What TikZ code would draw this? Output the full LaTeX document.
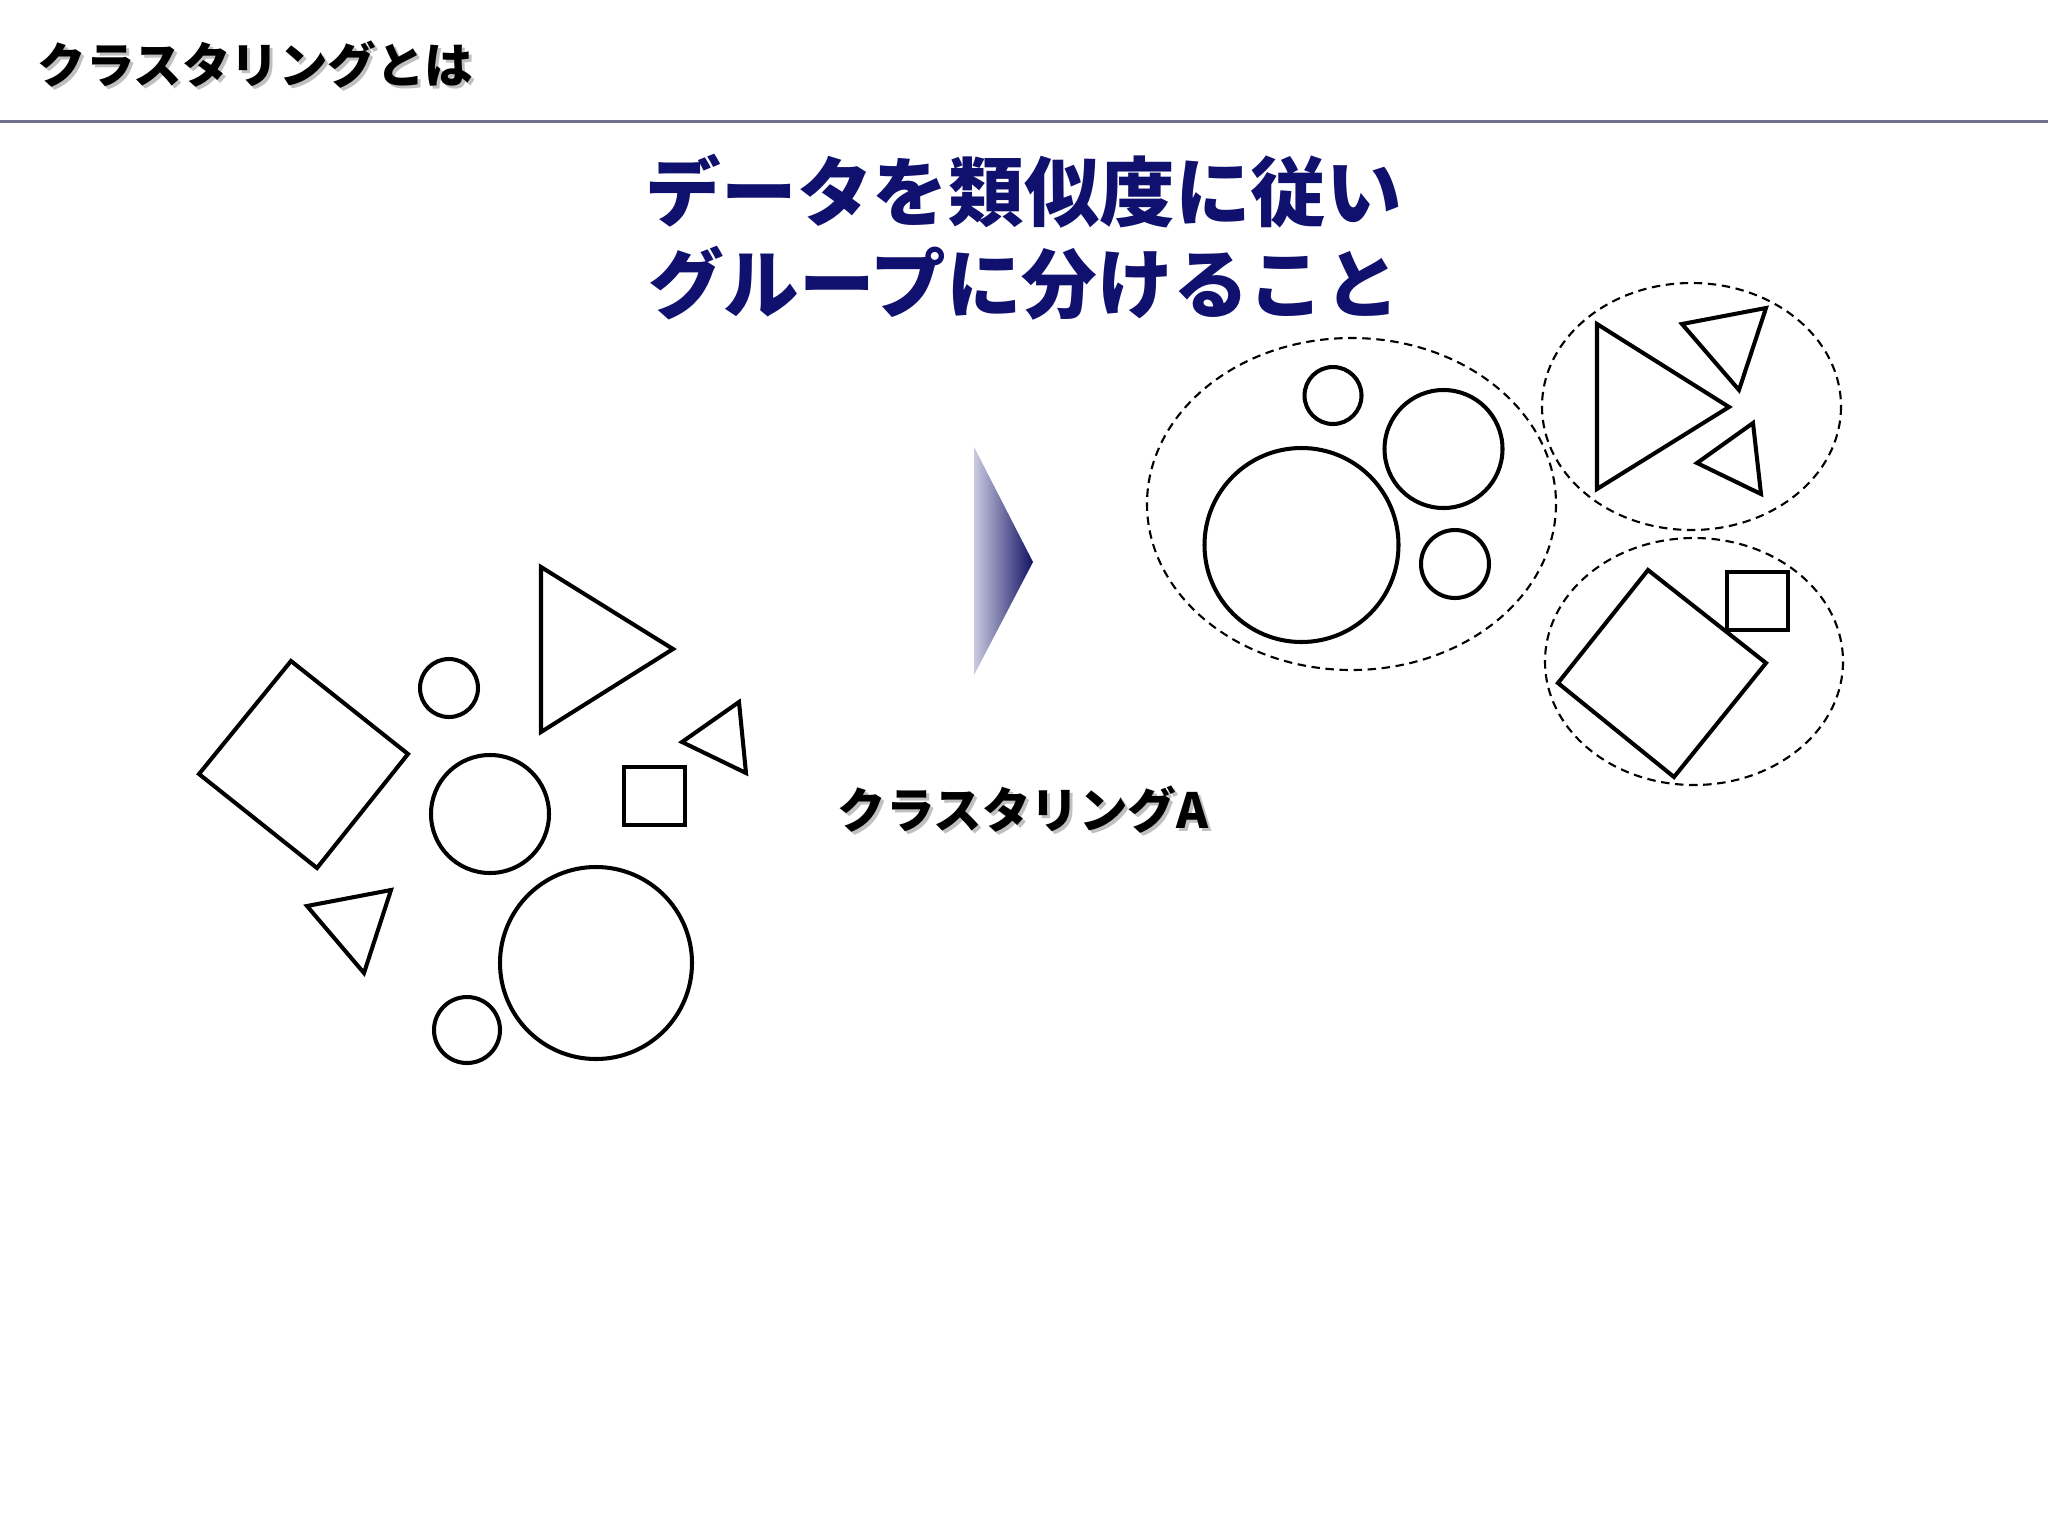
\documentclass[tikz,border=0pt]{standalone}
\usepackage{fontspec}
\newfontfamily\jp{Noto Sans CJK JP}
\definecolor{navytext}{RGB}{16,16,110}
\definecolor{rulegray}{RGB}{112,112,140}
\definecolor{arrowlight}{RGB}{202,202,224}
\definecolor{arrowdark}{RGB}{18,18,100}
\definecolor{shadowgray}{RGB}{150,150,150}
\tikzset{
  shape line/.style={draw=black,line width=1.15pt,line join=miter},
  cluster line/.style={draw=black,line width=0.6pt,dash pattern=on 2.4pt off 1.6pt},
  headtext/.style={inner sep=0pt,font=\jp\bfseries\fontsize{13.8pt}{16pt}\selectfont},
  bluetext/.style={inner sep=0pt,text=navytext,font=\jp\bfseries\fontsize{21.5pt}{26pt}\selectfont},
  shadowtext/.style={text=shadowgray,opacity=0.6}
}
\begin{document}
\begin{tikzpicture}[x=0.01cm,y=-0.01cm]
\useasboundingbox (0,0) rectangle (2048,1536);
\fill[white] (0,0) rectangle (2048,1536);

% header
\node[headtext,shadowtext,anchor=west] (titleshadow) at (40,68) {クラスタリングとは};
\node[headtext,anchor=west] (title) at (37,65) {クラスタリングとは};
\draw[rulegray,line width=0.6pt] (0,121.5) -- (2048,121.5);

% main message
\node[bluetext] (msg1) at (1024,191) {データを類似度に従い};
\node[bluetext] (msg2) at (1024,283) {グループに分けること};

% left scattered shapes
\draw[shape line] (199,774) -- (291,661) -- (408,754) -- (317,868) -- cycle;
\draw[shape line] (449,688) circle[radius=29];
\draw[shape line] (541,567) -- (673,649) -- (541,732) -- cycle;
\draw[shape line] (739,702) -- (682,742) -- (746,773) -- cycle;
\draw[shape line] (624,767) rectangle (685,825);
\draw[shape line] (490,814) circle[radius=59];
\draw[shape line] (307,906) -- (391,890) -- (364,973) -- cycle;
\draw[shape line] (596,963) circle[radius=96];
\draw[shape line] (467,1030) circle[radius=33];

% gradient arrow
\shade[left color=arrowlight,right color=arrowdark] (974,447) -- (1033,562) -- (974,675) -- cycle;

% label
\node[headtext,shadowtext] (labelshadow) at (1026,813) {クラスタリングA};
\node[headtext] (label) at (1023,810) {クラスタリングA};

% right clustered shapes
\draw[cluster line] (1351.5,504) ellipse[x radius=204.5,y radius=166];
\draw[shape line] (1301.5,545) circle[radius=97];
\draw[shape line] (1443.5,449) circle[radius=59];
\draw[shape line] (1333,395.5) circle[radius=28.5];
\draw[shape line] (1455,564) circle[radius=34];

\draw[cluster line] (1691.5,406.5) ellipse[x radius=149.5,y radius=123.5];
\draw[shape line] (1597,324) -- (1729,407) -- (1597,489) -- cycle;
\draw[shape line] (1682,324) -- (1766,308) -- (1739,390) -- cycle;
\draw[shape line] (1697,463) -- (1753,423) -- (1761,494) -- cycle;

\draw[cluster line] (1694,661.5) ellipse[x radius=149,y radius=123.5];
\draw[shape line] (1648,570) -- (1766,663) -- (1674,777) -- (1558,683) -- cycle;
\draw[shape line] (1727,572) rectangle (1788,630);
\end{tikzpicture}
\end{document}
